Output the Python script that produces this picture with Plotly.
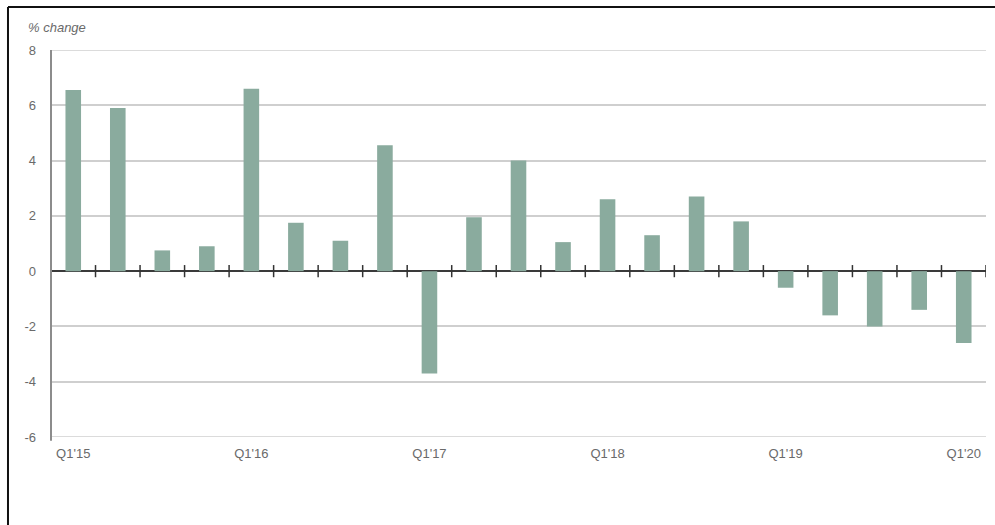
import plotly.graph_objects as go

# Quarterly series, Q1'15 to Q1'20
quarters = [
    "Q1'15", "Q2'15", "Q3'15", "Q4'15",
    "Q1'16", "Q2'16", "Q3'16", "Q4'16",
    "Q1'17", "Q2'17", "Q3'17", "Q4'17",
    "Q1'18", "Q2'18", "Q3'18", "Q4'18",
    "Q1'19", "Q2'19", "Q3'19", "Q4'19",
    "Q1'20",
]
pct_change = [
    6.55, 5.9, 0.75, 0.9,
    6.6, 1.75, 1.1, 4.55,
    -3.7, 1.95, 4.0, 1.05,
    2.6, 1.3, 2.7, 1.8,
    -0.6, -1.6, -2.0, -1.4,
    -2.6,
]
y_ticks = [-6, -4, -2, 0, 2, 4, 6, 8]
x_label_quarters = ["Q1'15", "Q1'16", "Q1'17", "Q1'18", "Q1'19", "Q1'20"]

BAR_COLOR = "#8aab9e"
TEXT_COLOR = "#6a6a6a"
GRID_COLOR = "#cfcfcf"
FONT = "Liberation Sans, Arial, sans-serif"

fig = go.Figure(
    go.Bar(
        x=list(range(len(quarters))),
        y=pct_change,
        marker=dict(color=BAR_COLOR, line=dict(width=0)),
        hovertext=quarters,
    )
)

shapes = []
# Gridlines at the top and bottom of the value range
for v in (min(y_ticks), max(y_ticks)):
    shapes.append(dict(
        type="line", xref="paper", yref="y",
        x0=0, x1=1, y0=v, y1=v,
        line=dict(color=GRID_COLOR, width=1.5),
        layer="below",
    ))

# Small tick marks across the zero line at the boundaries between quarters
for i in range(len(quarters)):
    shapes.append(dict(
        type="line", xref="x", yref="y",
        x0=i + 0.5, x1=i + 0.5, y0=-0.22, y1=0.22,
        line=dict(color="#333333", width=1.5),
    ))

# Vertical axis line on the left of the plot
shapes.append(dict(
    type="line", xref="paper", yref="paper",
    x0=0, x1=0, y0=-0.01, y1=1.0,
    line=dict(color="#8c8c8c", width=2),
))

# Frame: top and left rules
shapes.append(dict(
    type="line", xref="paper", yref="paper",
    x0=-0.046, x1=1.02, y0=1.111, y1=1.111,
    line=dict(color="#111111", width=2),
))
shapes.append(dict(
    type="line", xref="paper", yref="paper",
    x0=-0.046, x1=-0.046, y0=1.111, y1=-0.25,
    line=dict(color="#111111", width=2),
))

fig.update_layout(
    width=995,
    height=525,
    margin=dict(l=51, r=9, t=50, b=88),
    paper_bgcolor="white",
    plot_bgcolor="white",
    showlegend=False,
    bargap=0.65,
    font=dict(family=FONT, color=TEXT_COLOR, size=13),
    shapes=shapes,
    annotations=[dict(
        text="<i>% change</i>",
        xref="paper", yref="paper",
        x=-0.027, y=1.057,
        xanchor="left", yanchor="middle",
        showarrow=False,
        font=dict(family=FONT, color=TEXT_COLOR, size=13),
    )],
)

fig.update_xaxes(
    range=[-0.5, len(quarters) - 0.5],
    tickmode="array",
    tickvals=[quarters.index(q) for q in x_label_quarters],
    ticktext=x_label_quarters,
    showgrid=False,
    zeroline=False,
    showline=False,
    ticks="",
    ticklabelstandoff=7,
    tickfont=dict(family=FONT, color=TEXT_COLOR, size=13),
)

fig.update_yaxes(
    range=[-6, 8],
    tickmode="array",
    tickvals=y_ticks,
    ticktext=[str(v) for v in y_ticks],
    showgrid=True,
    gridcolor=GRID_COLOR,
    gridwidth=1.5,
    zeroline=True,
    zerolinecolor="#3a3a3a",
    zerolinewidth=1.5,
    showline=False,
    ticks="",
    ticklabelstandoff=14,
    tickfont=dict(family=FONT, color=TEXT_COLOR, size=13),
)

fig.write_html("out.html")
